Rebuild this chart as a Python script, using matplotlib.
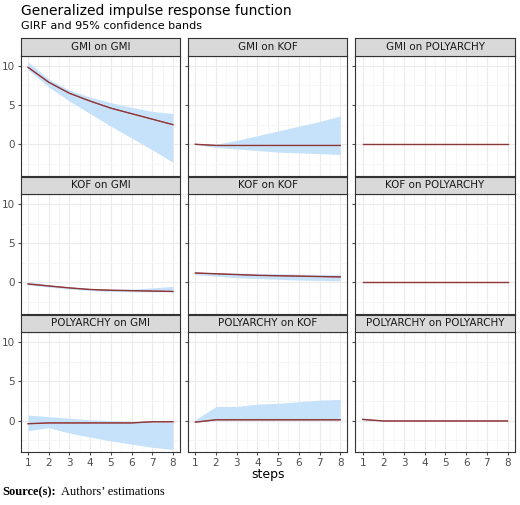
import matplotlib.pyplot as plt

steps = [1, 2, 3, 4, 5, 6, 7, 8]
titles = ["GMI on GMI", "GMI on KOF", "GMI on POLYARCHY",
          "KOF on GMI", "KOF on KOF", "KOF on POLYARCHY",
          "POLYARCHY on GMI", "POLYARCHY on KOF", "POLYARCHY on POLYARCHY"]
girf = [
    [9.8, 7.9, 6.5, 5.5, 4.6, 3.9, 3.2, 2.5],
    [0.0, -0.15, -0.15, -0.15, -0.15, -0.15, -0.15, -0.15],
    [0.0, 0.0, 0.0, 0.0, 0.0, 0.0, 0.0, 0.0],
    [-0.2, -0.45, -0.7, -0.9, -1.0, -1.05, -1.1, -1.15],
    [1.2, 1.1, 1.0, 0.9, 0.85, 0.8, 0.75, 0.7],
    [0.0, 0.0, 0.0, 0.0, 0.0, 0.0, 0.0, 0.0],
    [-0.4, -0.3, -0.3, -0.3, -0.3, -0.3, -0.15, -0.15],
    [-0.2, 0.1, 0.1, 0.1, 0.1, 0.1, 0.1, 0.1],
    [0.15, -0.05, -0.05, -0.05, -0.05, -0.05, -0.05, -0.05],
]
lower = [
    [9.5, 7.3, 5.5, 3.9, 2.3, 0.8, -0.7, -2.3],
    [-0.05, -0.4, -0.6, -0.8, -1.0, -1.1, -1.2, -1.3],
    [-0.05, -0.05, -0.05, -0.05, -0.05, -0.05, -0.05, -0.05],
    [-0.3, -0.6, -0.85, -1.05, -1.15, -1.2, -1.2, -1.2],
    [1.0, 0.8, 0.6, 0.5, 0.4, 0.3, 0.25, 0.2],
    [-0.05, -0.05, -0.05, -0.05, -0.05, -0.05, -0.05, -0.05],
    [-1.3, -0.9, -1.6, -2.1, -2.6, -3.0, -3.4, -3.7],
    [-0.2, 0.0, 0.0, 0.0, 0.0, 0.0, 0.0, 0.0],
    [0.0, -0.1, -0.1, -0.1, -0.1, -0.1, -0.1, -0.1],
]
upper = [
    [10.5, 8.3, 6.9, 6.0, 5.3, 4.7, 4.2, 3.9],
    [0.05, 0.0, 0.5, 1.1, 1.7, 2.3, 2.9, 3.6],
    [0.05, 0.05, 0.05, 0.05, 0.05, 0.05, 0.05, 0.05],
    [0.1, -0.3, -0.55, -0.75, -0.85, -0.85, -0.7, -0.5],
    [1.3, 1.25, 1.2, 1.15, 1.1, 1.05, 1.0, 1.0],
    [0.05, 0.05, 0.05, 0.05, 0.05, 0.05, 0.05, 0.05],
    [0.7, 0.5, 0.3, 0.1, 0.0, -0.1, -0.15, -0.2],
    [0.1, 1.8, 1.8, 2.1, 2.2, 2.4, 2.6, 2.7],
    [0.25, 0.0, 0.0, 0.0, 0.0, 0.0, 0.0, 0.0],
]

fig, axes = plt.subplots(3, 3, figsize=(5.2, 5.05), dpi=100, sharex=True, sharey=True)
fig.subplots_adjust(left=0.04, right=0.99, top=0.89, bottom=0.105, wspace=0.05, hspace=0.15)

for i, ax in enumerate(axes.flat):
    ax.fill_between(steps, lower[i], upper[i], color="#c6e2fb", lw=0)
    ax.plot(steps, girf[i], color="#b22222", lw=1.0)
    ax.plot(steps, girf[i], color="#555555", lw=0.6, alpha=0.6)
    ax.set_xlim(0.65, 8.35)
    ax.set_ylim(-4, 11.3)
    ax.set_xticks(steps)
    ax.set_yticks([0, 5, 10])
    ax.set_xticks([x + 0.5 for x in steps[:-1]], minor=True)
    ax.set_yticks([-2.5, 2.5, 7.5], minor=True)
    ax.grid(True, which="major", color="#ebebeb", lw=0.8)
    ax.grid(True, which="minor", color="#f3f3f3", lw=0.5)
    ax.set_axisbelow(True)
    for s in ax.spines.values():
        s.set_color("#333333")
    ax.tick_params(which="major", labelsize=7.5, colors="#4d4d4d", length=2.5, pad=1.5)
    ax.tick_params(which="minor", length=0)

for i, ax in enumerate(axes.flat):
    pos = ax.get_position()
    ax_strip = fig.add_axes([pos.x0, pos.y1, pos.width, 0.034])
    ax_strip.set_xticks([]); ax_strip.set_yticks([])
    ax_strip.set_facecolor("#d9d9d9")
    for s in ax_strip.spines.values():
        s.set_color("#333333")
    ax_strip.text(0.5, 0.5, titles[i], ha="center", va="center", fontsize=7.5, color="#1a1a1a")

fig.text(0.04, 0.978, "Generalized impulse response function", fontsize=10, va="center")
fig.text(0.04, 0.948, "GIRF and 95% confidence bands", fontsize=8, va="center")
fig.text(0.515, 0.06, "steps", fontsize=9, ha="center", va="center")
fig.text(0.005, 0.025, "Source(s):", fontsize=9, fontweight="bold", family="Liberation Serif", va="center")
fig.text(0.118, 0.025, "Authors\u2019 estimations", fontsize=9, family="Liberation Serif", va="center")

fig.savefig("out.png", dpi=100)
